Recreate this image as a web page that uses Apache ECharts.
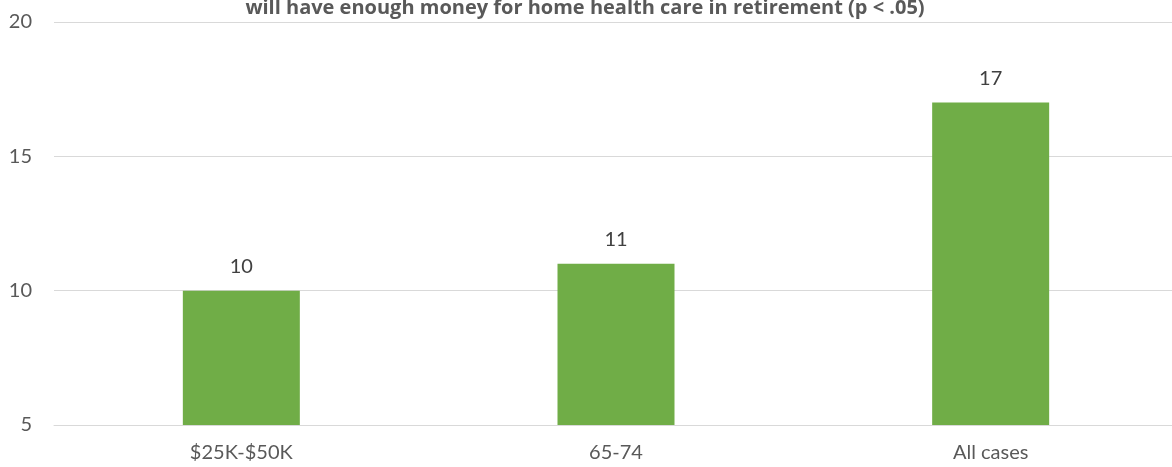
<!DOCTYPE html>
<html>
<head>
<meta charset="utf-8">
<script src="https://cdn.jsdelivr.net/npm/echarts@6/dist/echarts.min.js"></script>
<style>
  html, body { margin: 0; padding: 0; background: #fff; overflow: hidden; }
  #chart { width: 1190px; height: 467px; }
</style>
</head>
<body>
<div id="chart"></div>
<script>
// Share of respondents confident about home health care funding, by group
const categories = ['$25K-$50K', '65-74', 'All cases'];
const values = [10, 11, 17];
const titleText = 'will have enough money for home health care in retirement (p < .05)';

const FONT = 'Lato, "Open Sans", sans-serif';
const chart = echarts.init(document.getElementById('chart'));
chart.setOption({
  animation: false,
  title: {
    text: titleText,
    left: 580,
    textAlign: 'center',
    top: -7,
    textStyle: { fontFamily: '"Open Sans", sans-serif', fontSize: 20, fontWeight: 'bold', color: '#595959' }
  },
  grid: { left: 54, width: 1124, top: 22, bottom: 42, containLabel: false },
  xAxis: {
    type: 'category',
    data: categories,
    axisLine: { show: true, lineStyle: { color: '#D9D9D9', width: 1 } },
    axisTick: { show: false },
    axisLabel: { fontFamily: FONT, fontSize: 20, color: '#595959', margin: 18 }
  },
  yAxis: {
    type: 'value',
    min: 5,
    max: 20,
    interval: 5,
    axisLine: { show: false },
    axisTick: { show: false },
    splitLine: { lineStyle: { color: '#D9D9D9', width: 1 } },
    axisLabel: { fontFamily: FONT, fontSize: 20, color: '#595959', margin: 22 }
  },
  series: [{
    type: 'bar',
    data: values,
    barWidth: 117,
    itemStyle: { color: '#70AD47' },
    label: {
      show: true,
      position: 'top',
      distance: 14,
      fontFamily: FONT,
      fontSize: 20,
      color: '#404040'
    }
  }]
});
</script>
</body>
</html>
